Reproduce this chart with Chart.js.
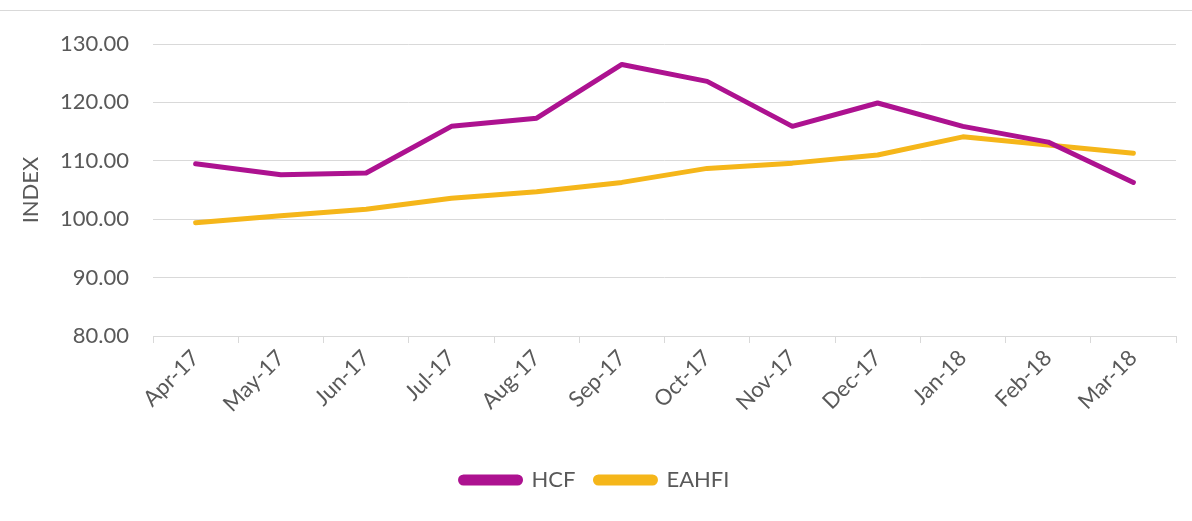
<!DOCTYPE html>
<html>
<head>
<meta charset="utf-8">
<script src="https://cdn.jsdelivr.net/npm/chart.js@4.4.1/dist/chart.umd.min.js"></script>
<style>
  html, body { margin: 0; padding: 0; background: #fff; }
  #wrap { position: relative; width: 1192px; height: 521px; }
  #topline { position: absolute; left: 0; top: 10px; width: 1192px; height: 1px; background: #d9d9d9; }
  canvas { display: block; }
</style>
</head>
<body>
<div id="wrap">
  <div id="topline"></div>
  <canvas id="chart" width="1192" height="521"></canvas>
</div>
<script>
// ── Data ──────────────────────────────────────────────────────────────
const months = ['Apr-17', 'May-17', 'Jun-17', 'Jul-17', 'Aug-17', 'Sep-17',
                'Oct-17', 'Nov-17', 'Dec-17', 'Jan-18', 'Feb-18', 'Mar-18'];
const hcf   = [109.5, 107.6, 107.9, 115.9, 117.3, 126.5, 123.6, 115.9, 119.9, 115.9, 113.2, 106.3];
const eahfi = [99.4, 100.6, 101.7, 103.6, 104.7, 106.3, 108.7, 109.6, 111.0, 114.1, 112.7, 111.3];
const yTicks = { min: 80, max: 130, step: 10 };

const textColor = '#595959';
const gridColor = '#d9d9d9';
const font = { family: 'Lato', size: 22 };

new Chart(document.getElementById('chart'), {
  type: 'line',
  data: {
    labels: months,
    datasets: [
      { label: 'HCF', data: hcf, borderColor: '#ad1290', backgroundColor: '#ad1290',
        borderWidth: 5, pointRadius: 0, tension: 0, borderCapStyle: 'round', borderJoinStyle: 'round' },
      { label: 'EAHFI', data: eahfi, borderColor: '#f5b61a', backgroundColor: '#f5b61a',
        borderWidth: 5, pointRadius: 0, tension: 0, borderCapStyle: 'round', borderJoinStyle: 'round' },
    ]
  },
  options: {
    responsive: false,
    animation: false,
    layout: { padding: { top: 44, right: 16, bottom: 20, left: 14 } },
    plugins: {
      tooltip: { enabled: false },
      legend: {
        position: 'bottom',
        labels: {
          color: textColor,
          font: font,
          boxWidth: 60,
          boxHeight: 6,
          padding: 20,
          useBorderRadius: true,
          borderRadius: 3,
        }
      }
    },
    scales: {
      x: {
        offset: true,
        grid: { offset: true, drawOnChartArea: false, tickLength: 7, color: gridColor },
        border: { color: gridColor },
        ticks: { color: textColor, font: font, minRotation: 45, maxRotation: 45, padding: 2 },
        afterFit: s => { s.height = 113; }
      },
      y: {
        min: yTicks.min,
        max: yTicks.max,
        grid: { color: gridColor, drawTicks: false },
        border: { display: false },
        ticks: {
          stepSize: yTicks.step,
          color: textColor,
          font: font,
          padding: 24,
          callback: v => v.toFixed(2)
        },
        title: { display: true, text: 'INDEX', color: textColor, font: font, padding: 4 },
        afterFit: s => { s.width = 139; }
      }
    }
  }
});
</script>
</body>
</html>
